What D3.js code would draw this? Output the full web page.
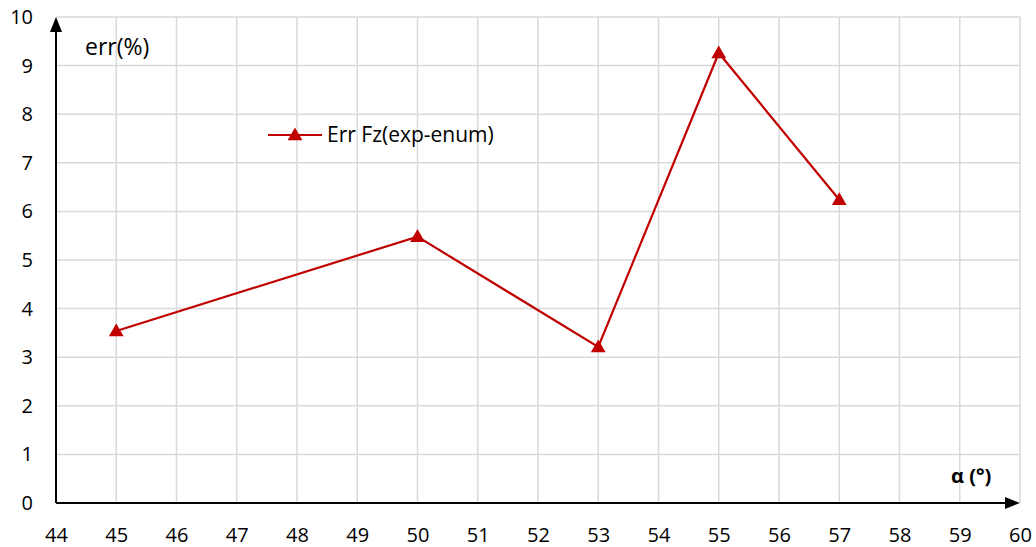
<!DOCTYPE html>
<html><head><meta charset="utf-8">
<script src="https://cdn.jsdelivr.net/npm/d3@7"></script>
<style>body{margin:0;background:#fff;} text{font-family:"Open Sans",sans-serif;}</style>
</head><body>
<svg id="c" width="1036" height="547"></svg>
<script>
const xValues = [45, 50, 53, 55, 57];
const errValues = [3.54, 5.48, 3.21, 9.26, 6.24];
const xTicks = d3.range(44, 61);
const yTicks = d3.range(0, 11);
const seriesName = "Err Fz(exp-enum)";

const svg = d3.select("#c");
const L = 56, R = 1020, T = 17, B = 503;
const x = d3.scaleLinear().domain([44, 60]).range([L, R]);
const y = d3.scaleLinear().domain([0, 10]).range([B, T]);
const red = "#c00000";

// grid
svg.append("g").selectAll("line").data(xTicks.slice(1)).join("line")
  .attr("x1", d => x(d)).attr("x2", d => x(d)).attr("y1", T).attr("y2", B)
  .attr("stroke", "#d9d9d9").attr("stroke-width", 1.5);
svg.append("g").selectAll("line").data(yTicks.slice(1)).join("line")
  .attr("x1", L).attr("x2", R).attr("y1", d => y(d)).attr("y2", d => y(d))
  .attr("stroke", "#d9d9d9").attr("stroke-width", 1.5);

// axes
const xa = svg.append("g").attr("transform", `translate(0,${B})`)
  .call(d3.axisBottom(x).tickValues(xTicks).tickSize(0).tickPadding(25));
xa.select(".domain").remove();
xa.attr("font-size", 20).attr("font-family", "Open Sans");
xa.selectAll("text").attr("fill", "#000");
const ya = svg.append("g").attr("transform", `translate(${L},0)`)
  .call(d3.axisLeft(y).tickValues(yTicks).tickSize(0).tickPadding(23));
ya.select(".domain").remove();
ya.attr("font-size", 20).attr("font-family", "Open Sans");
ya.selectAll("text").attr("fill", "#000");

svg.append("line").attr("x1", L).attr("x2", R - 12).attr("y1", B).attr("y2", B).attr("stroke", "#000").attr("stroke-width", 2);
svg.append("line").attr("x1", L).attr("x2", L).attr("y1", B).attr("y2", T + 12).attr("stroke", "#000").attr("stroke-width", 2);
svg.append("path").attr("d", `M${R},${B} L${R - 15},${B - 6} L${R - 15},${B + 6} Z`).attr("fill", "#000");
svg.append("path").attr("d", `M${L},${T} L${L - 6},${T + 15} L${L + 6},${T + 15} Z`).attr("fill", "#000");

// series
const pts = xValues.map((v, i) => [v, errValues[i]]);
svg.append("path").datum(pts)
  .attr("d", d3.line().x(d => x(d[0])).y(d => y(d[1])))
  .attr("fill", "none").attr("stroke", red).attr("stroke-width", 2.2);
const tri = d3.symbol().type(d3.symbolTriangle).size(95);
svg.append("g").selectAll("path").data(pts).join("path")
  .attr("d", tri).attr("transform", d => `translate(${x(d[0])},${y(d[1]) + 1})`).attr("fill", red);

// labels
svg.append("text").attr("x", 85).attr("y", 55).attr("font-size", 23).text("err(%)");
svg.append("text").attr("x", 951).attr("y", 483).attr("font-size", 20).attr("font-weight", "bold").text("α (°)");

// legend
svg.append("line").attr("x1", 268).attr("x2", 322).attr("y1", 135).attr("y2", 135).attr("stroke", red).attr("stroke-width", 2.2);
svg.append("path").attr("d", tri).attr("transform", "translate(295,136)").attr("fill", red);
svg.append("text").attr("x", 327).attr("y", 142).attr("font-size", 21).text(seriesName);
</script>
</body></html>
